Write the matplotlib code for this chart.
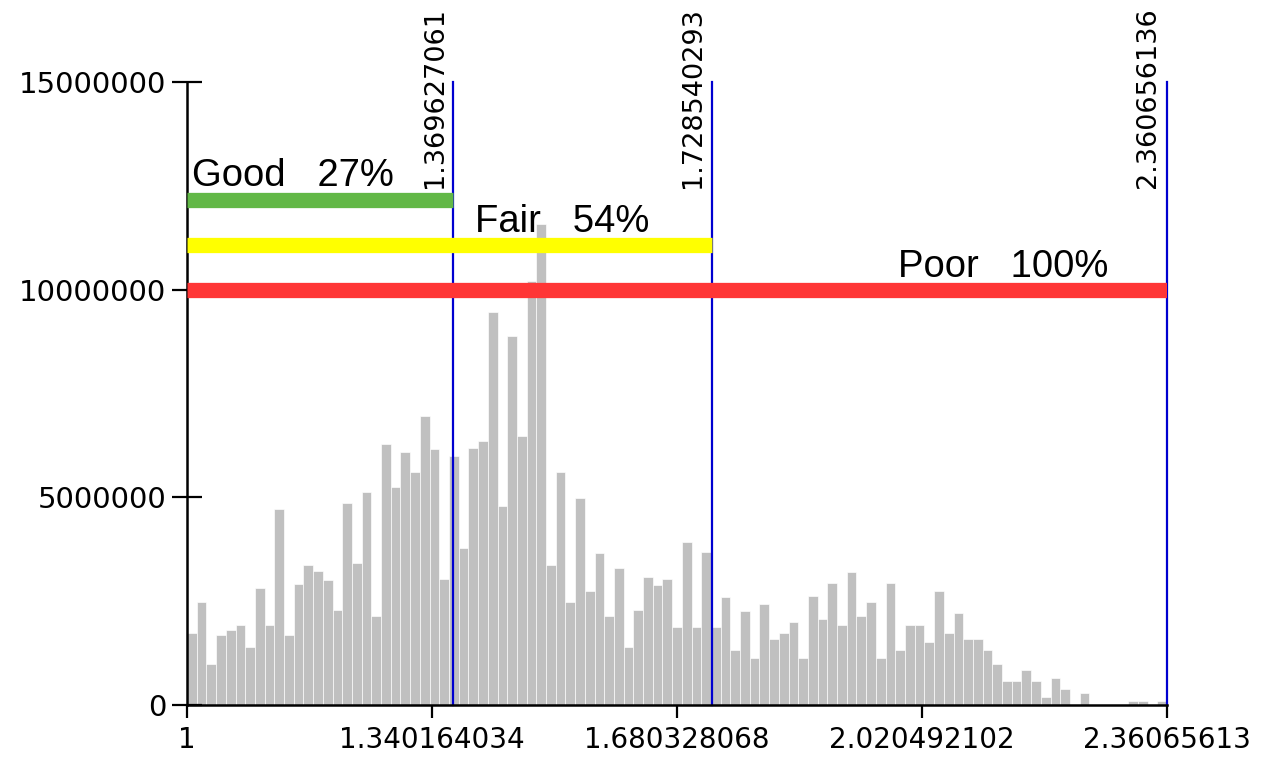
import matplotlib

matplotlib.use("Agg")

import matplotlib.pyplot as plt
import numpy as np


X_MIN = 1.0
X_MAX = 2.360656136

# histogram counts (millions), one per bin, left to right
BIN_VALUES = [
    1.73, 2.48, 0.99, 1.69, 1.80, 1.93, 1.40, 2.82, 1.93, 4.72,
    1.69, 2.91, 3.37, 3.22, 3.00, 2.29, 4.86, 3.42, 5.13, 2.14,
    6.28, 5.25, 6.09, 5.61, 6.96, 6.16, 3.03, 6.00, 3.78, 6.19,
    6.36, 9.46, 4.79, 8.88, 6.48, 10.2, 11.58, 3.37, 5.61, 2.48,
    4.98, 2.74, 3.66, 2.14, 3.30, 1.40, 2.29, 3.08, 2.89, 3.03,
    1.88, 3.92, 1.88, 3.68, 1.88, 2.60, 1.32, 2.26, 1.13, 2.43,
    1.60, 1.73, 2.00, 1.13, 2.62, 2.07, 2.94, 1.93, 3.20, 2.14,
    2.48, 1.13, 2.94, 1.32, 1.93, 1.93, 1.52, 2.74, 1.73, 2.21,
    1.60, 1.60, 1.32, 0.99, 0.58, 0.58, 0.84, 0.58, 0.19, 0.65,
    0.39, 0.00, 0.29, 0.00, 0.00, 0.00, 0.00, 0.10, 0.10, 0.00,
    0.10,
]

# class thresholds (blue lines) and their labels
THRESHOLDS = [1.369627061, 1.728540293, 2.360656136]
THRESHOLD_LABELS = ["1.369627061", "1.728540293", "2.360656136"]

# cumulative class bars
CLASS_NAMES = ["Good   27%", "Fair   54%", "Poor   100%"]
CLASS_LEVELS = [12.16e6, 11.07e6, 10.0e6]
CLASS_COLORS = ["#62b847", "#ffff00", "#ff3636"]
CLASS_TEXT_X = [1.0069, 1.3999, 1.9872]
CLASS_TEXT_Y = [12.5e6, 11.39e6, 10.3e6]

X_TICKS = [1.0, 1.340164034, 1.680328068, 2.020492102, 2.36065613]
X_TICK_LABELS = ["1", "1.340164034", "1.680328068", "2.020492102", "2.36065613"]
Y_TICKS = [0, 5000000, 10000000, 15000000]
Y_TICK_LABELS = ["0", "5000000", "10000000", "15000000"]


def draw_histogram(ax):
    edges = np.linspace(X_MIN, X_MAX, len(BIN_VALUES) + 1)
    heights = np.array(BIN_VALUES) * 1e6
    ax.bar(
        edges[:-1],
        heights,
        width=np.diff(edges),
        align="edge",
        color="#c0c0c0",
        edgecolor="white",
        linewidth=0.45,
        zorder=1,
    )


def draw_thresholds(ax):
    for value, label in zip(THRESHOLDS, THRESHOLD_LABELS):
        ax.plot([value, value], [0, 15e6], color="#0000d0", lw=1.6,
                zorder=2, clip_on=False)
        ax.annotate(
            label,
            xy=(value, 12.45e6),
            xytext=(-4, 0),
            textcoords="offset points",
            rotation=90,
            ha="right",
            va="bottom",
            fontsize=19.5,
            family="DejaVu Sans",
            annotation_clip=False,
        )


def draw_classes(ax):
    for i in range(len(CLASS_NAMES)):
        ax.hlines(
            CLASS_LEVELS[i],
            X_MIN,
            THRESHOLDS[i],
            color=CLASS_COLORS[i],
            lw=11,
            zorder=3,
            capstyle="butt",
        )
        ax.text(
            CLASS_TEXT_X[i],
            CLASS_TEXT_Y[i],
            CLASS_NAMES[i],
            fontsize=27.5,
            family="Liberation Sans",
            va="baseline",
            ha="left",
            zorder=4,
        )


def main():
    fig = plt.figure(figsize=(12.62, 7.58), dpi=100)
    ax = fig.add_axes([0.1482, 0.0699, 0.7765, 0.8219])

    draw_histogram(ax)
    draw_thresholds(ax)
    draw_classes(ax)

    ax.set_xlim(X_MIN, X_MAX)
    ax.set_ylim(0, 15e6)

    ax.set_xticks(X_TICKS)
    ax.set_xticklabels(X_TICK_LABELS, fontsize=20, family="DejaVu Sans")
    ax.set_yticks(Y_TICKS)
    ax.set_yticklabels(Y_TICK_LABELS, fontsize=21, family="DejaVu Sans")

    ax.tick_params(axis="x", direction="out", length=9, width=1.6, pad=6)
    ax.tick_params(axis="y", direction="inout", length=22, width=1.6, pad=4)

    for side in ["top", "right"]:
        ax.spines[side].set_visible(False)
    for side in ["left", "bottom"]:
        ax.spines[side].set_linewidth(1.8)
        ax.spines[side].set_color("black")

    fig.savefig("out.png", dpi=100)
    plt.close(fig)


if __name__ == "__main__":
    main()
